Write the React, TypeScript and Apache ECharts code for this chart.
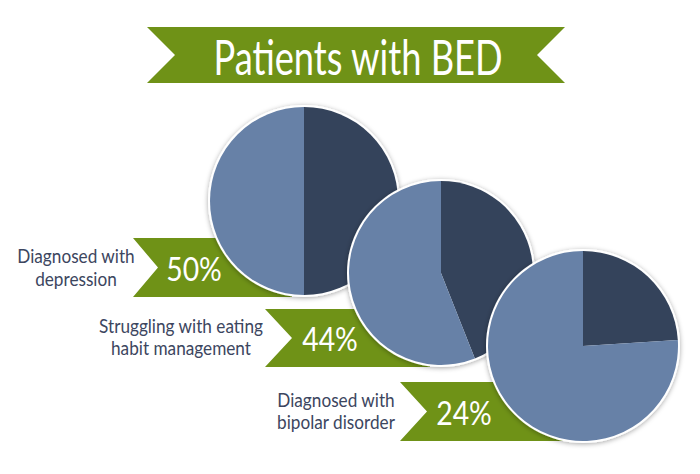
import React, { useEffect, useRef } from "react";
import * as echarts from "echarts";

const title = "Patients with BED";
const categories = [
  ["Diagnosed with", "depression"],
  ["Struggling with eating", "habit management"],
  ["Diagnosed with", "bipolar disorder"],
];
const values = [50, 44, 24];

// layout (pixels)
const pieCenters = [
  [304, 201],
  [441, 273],
  [583, 346],
];
const pieRadii = [94, 92, 95];
const ribbons = [
  { left: 133, right: 292, top: 238, bottom: 297, notch: 25, pctX: 194, textX: 76, textY: [255, 278] },
  { left: 265, right: 430, top: 309, bottom: 367, notch: 27, pctX: 330, textX: 181, textY: [325, 347] },
  { left: 400, right: 570, top: 382, bottom: 441, notch: 27, pctX: 464, textX: 336, textY: [399, 421] },
];

const GREEN = "#6f9217";
const DARK = "#34435b";
const LIGHT = "#6781a7";
const TEXT = "#3c4660";

export default function App() {
  const ref = useRef<HTMLDivElement>(null);
  useEffect(() => {
    document.body.style.margin = "0";
    const chart = echarts.init(ref.current!, null, { renderer: "svg" });
    const graphic: any[] = [
      {
        type: "polygon",
        z: 0,
        shape: { points: [[147, 27], [565, 27], [537, 55], [565, 83], [147, 83], [175, 55]] },
        style: { fill: GREEN },
      },
      {
        type: "text",
        x: 358,
        y: 56,
        scaleX: 0.755,
        z: 1,
        style: { text: title, fill: "#ffffff", font: "48px Lato", textAlign: "center", textVerticalAlign: "middle" },
      },
    ];
    ribbons.forEach((r, i) => {
      const mid = (r.top + r.bottom) / 2;
      graphic.push({
        type: "polygon",
        z: 0,
        shape: { points: [[r.left, r.top], [r.right, r.top], [r.right, r.bottom], [r.left, r.bottom], [r.left + r.notch, mid]] },
        style: { fill: GREEN },
      });
      graphic.push({
        type: "text",
        x: r.pctX,
        y: mid + 1,
        scaleX: 0.86,
        z: 1,
        style: { text: values[i] + "%", fill: "#ffffff", font: "33px Lato", textAlign: "center", textVerticalAlign: "middle" },
      });
      categories[i].forEach((line, j) => {
        graphic.push({
          type: "text",
          x: r.textX,
          y: r.textY[j],
          scaleX: 0.86,
          z: 1,
          style: { text: line, fill: TEXT, font: "20px Lato", textAlign: "center", textVerticalAlign: "middle" },
        });
      });
    });

    const series: any[] = [];
    values.forEach((v, i) => {
      series.push({
        type: "pie",
        silent: true,
        center: pieCenters[i],
        radius: [0, pieRadii[i] + 2],
        label: { show: false },
        labelLine: { show: false },
        emphasis: { disabled: true },
        data: [{ value: 1, itemStyle: { color: "#ffffff", shadowBlur: 5, shadowColor: "rgba(0,0,0,0.35)", shadowOffsetY: 1 } }],
      });
      series.push({
        type: "pie",
        silent: true,
        center: pieCenters[i],
        radius: [0, pieRadii[i]],
        startAngle: 90,
        clockwise: true,
        label: { show: false },
        labelLine: { show: false },
        emphasis: { disabled: true },
        data: [
          { value: v, name: "yes", itemStyle: { color: DARK } },
          { value: 100 - v, name: "no", itemStyle: { color: LIGHT } },
        ],
      });
    });

    chart.setOption({
      animation: false,
      backgroundColor: "#ffffff",
      graphic,
      series,
    });
    return () => chart.dispose();
  }, []);
  return <div ref={ref} style={{ position: "fixed", left: 0, top: 0, width: 700, height: 474 }} />;
}
